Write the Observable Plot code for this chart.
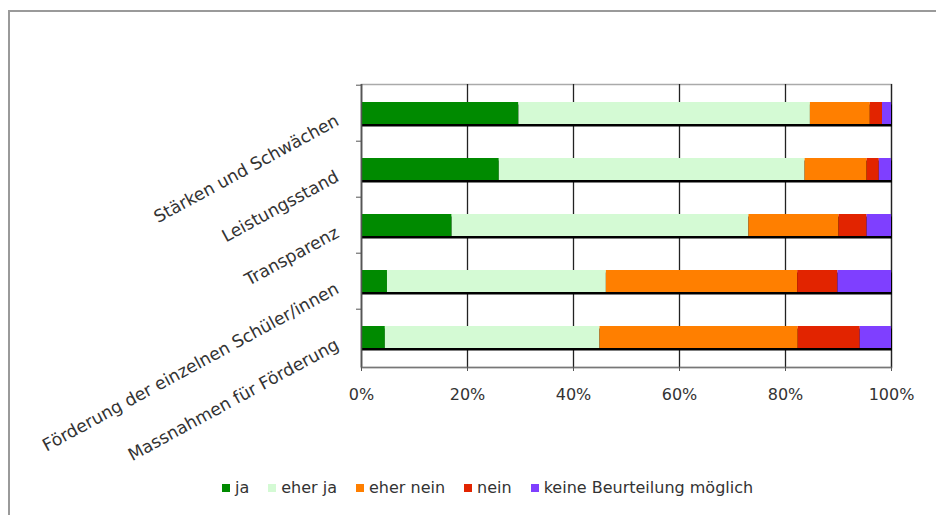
<!DOCTYPE html>
<html>
<head>
<meta charset="utf-8">
<script src="https://cdn.jsdelivr.net/npm/d3@7"></script>
<script src="https://cdn.jsdelivr.net/npm/@observablehq/plot@0.6"></script>
<style>
  html, body { margin: 0; padding: 0; background: #fff; }
  body { width: 936px; height: 515px; position: relative; overflow: hidden; font-family: "DejaVu Sans", Verdana, sans-serif; }
  #frame { position: absolute; left: 8px; top: 10px; width: 1000px; height: 600px; border-left: 2px solid #9a9a9a; border-top: 2px solid #9a9a9a; }
  #chart { position: absolute; left: 0; top: 0; }
  #legend { position: absolute; left: 222px; top: 478px; display: flex; align-items: center; font-size: 16px; color: #333; }
  #legend .item { display: flex; align-items: center; margin-right: 19px; }
  #legend .sw { width: 8px; height: 8px; margin-right: 5px; }
</style>
</head>
<body>
<div id="frame"></div>
<div id="chart"></div>
<div id="legend"></div>
<script>
const categories = ["Stärken und Schwächen", "Leistungsstand", "Transparenz", "Förderung der einzelnen Schüler/innen", "Massnahmen für Förderung"];
const responses = ["ja", "eher ja", "eher nein", "nein", "keine Beurteilung möglich"];
const ja        = [29.7, 26.0, 17.1,  4.9,  4.5];
const eherJa    = [55.0, 57.7, 56.0, 41.3, 40.5];
const eherNein  = [11.3, 11.7, 17.0, 36.1, 37.4];
const nein      = [ 2.3,  2.3,  5.3,  7.6, 11.7];
const keine     = [ 1.7,  2.3,  4.6, 10.1,  5.9];
const colors = ["#008a00", "#d4fad4", "#ff7f00", "#e22400", "#7f3fff"];
const xTicks = [0, 20, 40, 60, 80, 100];

const series = [ja, eherJa, eherNein, nein, keine];
const data = [];
categories.forEach((c, i) => {
  responses.forEach((r, j) => data.push({category: c, response: r, value: series[j][i]}));
});

const chart = Plot.plot({
  width: 936,
  height: 470,
  marginLeft: 361,
  marginRight: 45,
  marginTop: 84,
  marginBottom: 103,
  style: {fontFamily: "DejaVu Sans, Verdana, sans-serif", color: "#333", background: "transparent"},
  x: {domain: [0, 100]},
  y: {domain: categories, paddingInner: 0.6, paddingOuter: 0.3, label: null},
  color: {domain: responses, range: colors},
  marks: [
    Plot.frame({stroke: "#aaaaaa", strokeWidth: 1.5}),
    Plot.gridX(xTicks, {stroke: "#222", strokeOpacity: 1, strokeWidth: 1.3}),
    Plot.barX(categories, {x1: 0, x2: 100, y: d => d, fill: "#000", dy: 2.5, dx: 1}),
    Plot.barX(data, Plot.stackX({x: "value", y: "category", fill: "response", order: responses})),
    Plot.ruleX([0], {stroke: "#555", strokeWidth: 1.5}),
    Plot.frame({anchor: "bottom", stroke: "#777", strokeWidth: 1.5}),
    Plot.axisX(xTicks, {tickSize: 4, tickPadding: 17, tickFormat: d => d + "%", fontSize: 16, label: null, stroke: "#555"}),
    Plot.axisY({tickSize: 5, tickFormat: () => "", dy: -28.3, stroke: "#555"}),
    Plot.axisY({tickSize: 0, tickPadding: 24, tickRotate: -28.5, dy: 6, fontSize: 17.2, label: null})
  ]
});
document.getElementById("chart").appendChild(chart);

const legend = document.getElementById("legend");
responses.forEach((r, j) => {
  const item = document.createElement("div");
  item.className = "item";
  const sw = document.createElement("div");
  sw.className = "sw";
  sw.style.background = colors[j];
  const t = document.createElement("span");
  t.textContent = r;
  item.appendChild(sw);
  item.appendChild(t);
  legend.appendChild(item);
});
</script>
</body>
</html>
